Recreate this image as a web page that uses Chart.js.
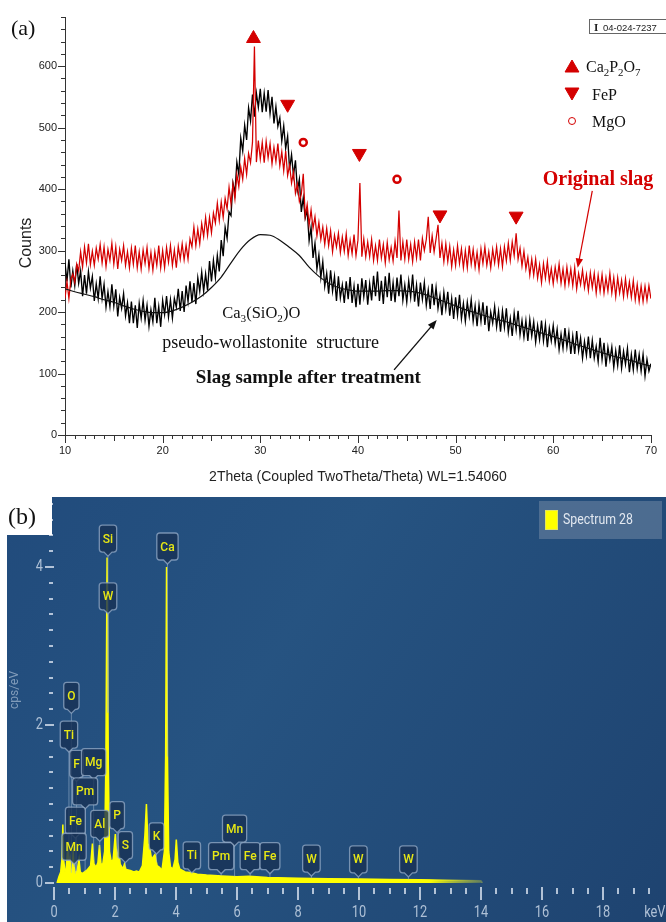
<!DOCTYPE html>
<html>
<head>
<meta charset="utf-8">
<script src="https://cdn.jsdelivr.net/npm/chart.js@4.4.1/dist/chart.umd.min.js"></script>
<style>
  html, body { margin: 0; padding: 0; background: #fff; }
  #wrap { position: relative; width: 666px; height: 922px; overflow: hidden; }
  #xrd { position: absolute; left: 0; top: 0; }
  #eds { position: absolute; left: 0; top: 497px; }
</style>
</head>
<body>
<div id="wrap">
  <canvas id="xrd" width="666" height="490"></canvas>
  <canvas id="eds" width="666" height="425"></canvas>
</div>
<script>
const RED = '#d40000';

// ---------- (a) XRD, 2theta 10..70 deg, 0.2 deg steps ----------
const thetaStart = 10, thetaStep = 0.2;
const treatedSlag = [
  280,250,286,240,267, 243,278,247,267,226, 260,230,266,239,258, 218,246,222,258,222,
  245,208,233,209,245, 210,237,193,224,206, 230,194,215,182,217, 182,211,174,214,190,
  219,187,211,177,204, 184,223,182,209,176, 219,196,226,192,220, 190,222,208,238,202,
  234,200,243,217,250, 216,247,213,256,234, 265,234,262,235,283, 250,284,256,292,266,
  317,291,338,320,363, 357,410,393,444,424, 483,462,504,480,532, 511,554,518,556,533,
  563,525,556,526,561, 523,550,507,534,502, 516,478,503,466,486, 432,456,422,447,398,
  416,363,386,353,366, 316,338,288,312,270, 293,256,282,242,263, 230,268,234,258,218,
  258,223,244,215,250, 221,257,215,242,208, 246,212,255,225,252, 212,246,219,259,226,
  266,218,251,213,258, 224,264,218,248,216, 256,226,261,219,244, 216,251,224,261,217,
  244,209,248,221,248, 211,236,205,246,211, 240,206,227,195,232, 205,233,194,222,189,
  224,195,228,189,214, 185,216,193,220,185, 210,177,212,185,216, 179,210,169,200,182,
  209,176,201,168,202, 175,206,167,190,161, 198,171,202,163,186, 159,186,153,188,161,
  184,151,178,155,186, 153,180,143,174,153, 178,149,172,139,164, 141,174,143,167,132,
  161,132,169,137,158, 125,152,129,160,125, 154,125,144,119,158, 123,150,111,143,122,
  143,110,137,113,146, 109,136,115,141,102, 131,106,139,108,131, 104,131,96,123,104,
  116
];
const originalSlag = [
  222,250,222,253,262, 248,278,267,298,273, 306,280,311,277,299, 276,304,286,310,280,
  306,274,302,284,312, 278,306,270,302,284, 308,276,298,272,304, 278,308,272,298,270,
  301,279,305,271,297, 268,298,276,308,272, 300,272,305,281,308, 276,301,272,307,286,
  311,285,309,286,319, 306,338,308,335,311, 344,323,354,325,354, 329,361,345,377,349,
  379,354,385,368,403, 376,408,384,424,404, 436,416,450,424,458, 443,476,632,444,479,
  449,476,443,478,451, 474,441,468,445,474, 438,461,430,462,422, 439,410,428,393,408,
  380,392,425,356,375, 341,366,336,355,324, 346,318,338,310,336, 308,332,298,325,306,
  328,297,322,299,327, 292,317,295,326,292, 317,410,290,319,290, 314,290,318,284,308,
  284,318,288,310,280, 313,285,305,283,315, 288,365,284,314,286, 318,286,310,282,314,
  288,318,284,320,300, 318,355,296,324,298, 319,342,288,312,282, 311,282,307,274,301,
  276,308,279,303,272, 300,272,308,278,302, 273,297,269,303,279, 306,276,298,272,302,
  280,306,277,303,274, 306,283,312,284,314, 292,328,286,304,275, 299,270,289,260,286,
  260,286,255,277,248, 279,255,282,250,271, 246,273,252,278,247, 270,243,273,246,270,
  243,272,238,263,245, 268,240,261,235,264, 240,263,231,260,234, 261,231,256,234,263,
  231,256,225,256,231, 252,225,254,227,249, 224,251,220,245,217, 242,217,242,219,243,
  222
];
const twoTheta = treatedSlag.map((_, i) => +(thetaStart + i * thetaStep).toFixed(1));

// smooth amorphous hump (one value per degree, 10..70)
const fitCounts = [
  238,233,229,225,220,216,210,205,201,199,
  199,202,208,216,226,240,257,280,302,318,
  326,325,317,305,292,273,258,247,240,236,
  234,234,234,235,235,234,232,228,222,216,
  210,204,199,194,189,185,180,175,170,165,
  160,155,149,144,139,134,129,125,121,116,
  112
];
const fitTheta = fitCounts.map((_, i) => 10 + i);

// phase markers
const ca2p2o7X = [29.3], ca2p2o7Y = [645];
const fepX = [32.8, 40.15, 48.4, 56.2], fepY = [538, 458, 358, 356];
const mgoX = [34.4, 44.0], mgoY = [476, 416];

const xrdXTicks = [10, 20, 30, 40, 50, 60, 70];
const xrdYTicks = [0, 100, 200, 300, 400, 500, 600];

// ---------- (b) EDS spectrum ----------
const energyKeV = [
  0.10,0.16,0.22,0.26,0.29,0.32,0.36,0.40,0.44,0.47,0.50,0.53,0.56,0.60,0.63,0.66,0.70,0.76,0.82,0.86,
  0.92,1.00,1.10,1.20,1.26,1.31,1.38,1.44,1.49,1.54,1.60,1.66,1.70,1.74,1.78,1.82,1.88,1.94,2.01,2.06,
  2.12,2.17,2.26,2.31,2.36,2.50,2.62,2.70,2.80,2.90,2.98,3.03,3.08,3.14,3.20,3.31,3.38,3.46,3.54,3.62,
  3.66,3.69,3.72,3.76,3.82,3.90,3.97,4.01,4.06,4.12,4.30,4.51,4.70,5.00,5.50,6.00,6.40,7.00,8.00,9.00,
  10.0,11.0,12.0,13.0,14.0,14.05
];
const cpsPerEV = [
  0.00,0.08,0.14,0.30,0.74,0.28,0.14,0.18,0.40,0.46,0.22,0.30,0.12,0.16,0.42,0.20,0.12,0.16,0.30,0.14,
  0.12,0.14,0.17,0.22,0.50,0.24,0.20,0.26,0.48,0.24,0.24,0.40,1.50,4.12,1.50,0.40,0.26,0.30,0.62,0.30,
  0.44,0.24,0.18,0.24,0.17,0.16,0.14,0.15,0.14,0.22,0.60,1.00,0.50,0.44,0.30,0.36,0.22,0.20,0.16,0.40,
  1.60,4.00,1.60,0.40,0.20,0.18,0.30,0.55,0.26,0.18,0.14,0.13,0.11,0.10,0.09,0.08,0.085,0.07,0.06,0.055,
  0.05,0.045,0.04,0.035,0.03,0.00
];
const edsXTicks = [0, 2, 4, 6, 8, 10, 12, 14, 16, 18];
const edsYTicks = [0, 2, 4];

// element tags: name, energy of pointer, top of tag box (cps/eV)
const tagNames  = ['Si','W','Ca','O','Ti','F','Mg','Pm','Fe','Mn','Al','P','S','K','Ti','Pm','Mn','Fe','Fe','W','W','W'];
const tagEnergy = [1.77,1.77,3.72,0.57,0.49,0.74,1.30,1.02,0.70,0.66,1.50,2.07,2.34,3.36,4.52,5.48,5.92,6.43,7.08,8.44,9.98,11.62];
const tagTop    = [4.53,3.80,4.43,2.54,2.05,1.68,1.70,1.33,0.96,0.63,0.92,1.03,0.65,0.76,0.52,0.51,0.86,0.51,0.51,0.48,0.47,0.47];

const pts = (xs, ys) => xs.map((v, i) => ({ x: v, y: ys[i] }));

const SERIF = '"Liberation Serif", "Times New Roman", serif';
const SANS = '"Liberation Sans", Arial, sans-serif';

// text with "_x" subscripts
function rich(ctx, str, x, y, size, align, weight = '') {
  const segs = [];
  for (let i = 0; i < str.length; i++) {
    if (str[i] === '_') { segs.push([str[i + 1], true]); i++; }
    else if (segs.length && !segs[segs.length - 1][1]) segs[segs.length - 1][0] += str[i];
    else segs.push([str[i], false]);
  }
  const fnt = sub => `${weight} ${sub ? size * 0.68 : size}px ${SERIF}`;
  let w = 0;
  segs.forEach(([t, sub]) => { ctx.font = fnt(sub); w += ctx.measureText(t).width; });
  let cx = align === 'center' ? x - w / 2 : x;
  ctx.textAlign = 'left';
  ctx.textBaseline = 'alphabetic';
  segs.forEach(([t, sub]) => {
    ctx.font = fnt(sub);
    ctx.fillText(t, cx, y + (sub ? size * 0.22 : 0));
    cx += ctx.measureText(t).width;
  });
}

function arrow(ctx, x1, y1, x2, y2, color, lw, head) {
  const ang = Math.atan2(y2 - y1, x2 - x1);
  ctx.strokeStyle = color; ctx.fillStyle = color; ctx.lineWidth = lw;
  ctx.beginPath();
  ctx.moveTo(x1, y1);
  ctx.lineTo(x2 - Math.cos(ang) * head * 0.8, y2 - Math.sin(ang) * head * 0.8);
  ctx.stroke();
  ctx.beginPath();
  ctx.moveTo(x2, y2);
  ctx.lineTo(x2 - head * Math.cos(ang - 0.38), y2 - head * Math.sin(ang - 0.38));
  ctx.lineTo(x2 - head * Math.cos(ang + 0.38), y2 - head * Math.sin(ang + 0.38));
  ctx.closePath();
  ctx.fill();
}

const xrdDecor = {
  id: 'xrdDecor',
  afterDraw(chart) {
    const { ctx, chartArea: a, scales: { x, y } } = chart;
    const P = (vx, vy) => [x.getPixelForValue(vx), y.getPixelForValue(vy)];
    ctx.save();

    // tick marks
    ctx.strokeStyle = '#333';
    ctx.lineWidth = 1;
    ctx.beginPath();
    for (let v = 10; v <= 70; v++) {
      const px = Math.round(x.getPixelForValue(v)) + 0.5;
      const len = v % 10 === 0 ? 8 : (v % 5 === 0 ? 6 : 4);
      ctx.moveTo(px, a.bottom); ctx.lineTo(px, a.bottom + len);
    }
    for (let v = 0; v <= 680; v += 20) {
      const py = Math.round(y.getPixelForValue(v)) + 0.5;
      const len = v % 100 === 0 ? 7 : 4;
      ctx.moveTo(a.left - len, py); ctx.lineTo(a.left, py);
    }
    ctx.stroke();

    // y title
    ctx.save();
    ctx.translate(27, 243);
    ctx.rotate(-Math.PI / 2);
    ctx.fillStyle = '#222';
    ctx.font = `16px ${SANS}`;
    ctx.textAlign = 'center';
    ctx.textBaseline = 'middle';
    ctx.fillText('Counts', 0, 0);
    ctx.restore();

    // panel letter
    ctx.fillStyle = '#111';
    ctx.font = `22px ${SERIF}`;
    ctx.textAlign = 'left';
    ctx.textBaseline = 'alphabetic';
    ctx.fillText('(a)', 11, 35);

    // PDF card box
    ctx.strokeStyle = '#666';
    ctx.lineWidth = 1;
    ctx.strokeRect(589.5, 19.5, 80, 14);
    ctx.fillStyle = '#222';
    ctx.font = `bold 11px ${SERIF}`;
    ctx.fillText('I', 594, 31);
    ctx.font = `9.5px ${SANS}`;
    ctx.fillText('04-024-7237', 603, 30.5);

    // legend
    const draw = Chart.helpers.drawPoint;
    ctx.fillStyle = RED; ctx.strokeStyle = RED;
    draw(ctx, { pointStyle: 'triangle', radius: 8, rotation: 0, borderWidth: 1 }, 572, 68);
    draw(ctx, { pointStyle: 'triangle', radius: 8, rotation: 180, borderWidth: 1 }, 572, 92);
    ctx.fillStyle = '#fff';
    draw(ctx, { pointStyle: 'circle', radius: 3.5, rotation: 0, borderWidth: 2.5 }, 572, 121);
    ctx.fillStyle = '#111';
    rich(ctx, 'Ca_2P_2O_7', 586, 72, 16, 'left');
    rich(ctx, 'FeP', 592, 100, 16, 'left');
    rich(ctx, 'MgO', 592, 127, 16, 'left');

    // annotations
    let p = P(30.1, 190);
    rich(ctx, 'Ca_3(SiO_2)O', p[0], p[1], 16.5, 'center');
    p = P(19.95, 141);
    rich(ctx, 'pseudo-wollastonite  structure', p[0], p[1], 18, 'left');
    p = P(23.4, 84);
    rich(ctx, 'Slag sample after treatment', p[0], p[1], 19, 'left', 'bold');
    ctx.fillStyle = RED;
    p = P(58.93, 407);
    rich(ctx, 'Original slag', p[0], p[1], 20, 'left', 'bold');

    let t = P(43.7, 106), h = P(48.07, 187);
    arrow(ctx, t[0], t[1], h[0], h[1], '#111', 1.4, 10);
    t = P(64.0, 397); h = P(62.5, 272);
    arrow(ctx, t[0], t[1], h[0], h[1], RED, 1.2, 10);

    ctx.restore();
  }
};

new Chart(document.getElementById('xrd'), {
  type: 'line',
  data: {
    datasets: [
      { label: 'Original slag', data: pts(twoTheta, originalSlag), borderColor: RED, borderWidth: 1.25, pointRadius: 0, order: 2 },
      { label: 'Slag sample after treatment', data: pts(twoTheta, treatedSlag), borderColor: '#000', borderWidth: 1.35, pointRadius: 0, order: 3 },
      { label: 'Ca3(SiO2)O hump', data: pts(fitTheta, fitCounts), borderColor: '#111', borderWidth: 1.2, pointRadius: 0, tension: 0.4, cubicInterpolationMode: 'monotone', order: 1 },
      { type: 'scatter', label: 'Ca2P2O7', data: pts(ca2p2o7X, ca2p2o7Y), pointStyle: 'triangle', pointRadius: 8, backgroundColor: RED, borderColor: RED, borderWidth: 1, order: 0 },
      { type: 'scatter', label: 'FeP', data: pts(fepX, fepY), pointStyle: 'triangle', rotation: 180, pointRadius: 8, backgroundColor: RED, borderColor: RED, borderWidth: 1, order: 0 },
      { type: 'scatter', label: 'MgO', data: pts(mgoX, mgoY), pointStyle: 'circle', pointRadius: 3.5, backgroundColor: '#fff', borderColor: RED, borderWidth: 2.5, order: 0 }
    ]
  },
  options: {
    responsive: false,
    animation: false,
    devicePixelRatio: 1,
    layout: { padding: { left: 0, right: 10, top: 17, bottom: 0 } },
    plugins: { legend: { display: false }, tooltip: { enabled: false } },
    scales: {
      x: {
        type: 'linear', min: 10, max: 70,
        afterBuildTicks: s => { s.ticks = xrdXTicks.map(v => ({ value: v })); },
        afterFit: s => { s.height = 55; },
        ticks: { padding: 9, maxRotation: 0, color: '#222', font: { family: SANS, size: 11 } },
        grid: { display: false, drawTicks: false },
        border: { display: true, color: '#333', width: 1 },
        title: { display: true, text: '2Theta (Coupled TwoTheta/Theta) WL=1.54060', color: '#222', font: { family: SANS, size: 14 }, padding: { top: 0, bottom: 4 } }
      },
      y: {
        min: 0, max: 680,
        afterBuildTicks: s => { s.ticks = xrdYTicks.map(v => ({ value: v })); },
        afterFit: s => { s.width = 65; },
        ticks: { padding: 8, color: '#222', font: { family: SANS, size: 11 } },
        grid: { display: false, drawTicks: false },
        border: { display: true, color: '#333', width: 1 }
      }
    }
  },
  plugins: [xrdDecor]
});

// ---------- EDS panel ----------
function edsFade(chart, alpha) {
  const { ctx, chartArea, scales } = chart;
  if (!chartArea) return `rgba(255,255,0,${alpha})`;
  const x0 = scales.x.getPixelForValue(12.3), x1 = scales.x.getPixelForValue(14.1);
  const g = ctx.createLinearGradient(x0, 0, x1, 0);
  g.addColorStop(0, `rgba(255,255,0,${alpha})`);
  g.addColorStop(1, 'rgba(200,210,60,0.25)');
  return g;
}

function condensed(ctx, text, x, y, sx) {
  ctx.save();
  ctx.translate(x, y);
  ctx.scale(sx, 1);
  ctx.fillText(text, 0, 0);
  ctx.restore();
}

function specAt(e) {
  for (let i = 1; i < energyKeV.length; i++) {
    if (energyKeV[i] >= e) {
      const f = (e - energyKeV[i - 1]) / (energyKeV[i] - energyKeV[i - 1]);
      return cpsPerEV[i - 1] + f * (cpsPerEV[i] - cpsPerEV[i - 1]);
    }
  }
  return 0;
}

const edsDecor = {
  id: 'edsDecor',
  beforeDraw(chart) {
    const { ctx, width, height } = chart;
    ctx.save();
    ctx.fillStyle = '#fff';
    ctx.fillRect(0, 0, width, height);
    const g = ctx.createLinearGradient(0, 0, width, height);
    g.addColorStop(0, '#214b7c');
    g.addColorStop(0.4, '#265381');
    g.addColorStop(1, '#1e4370');
    ctx.fillStyle = g;
    ctx.fillRect(7, 0, width - 7, height);
    ctx.restore();
  },
  afterDraw(chart) {
    const { ctx, chartArea: a, scales: { x, y } } = chart;
    ctx.save();

    // y ticks every 0.2
    ctx.fillStyle = 'rgba(205,216,232,0.85)';
    for (let k = 0; k <= 24; k++) {
      const py = Math.round(y.getPixelForValue(k * 0.2));
      if (k % 10 === 0) ctx.fillRect(45, py - 1, 9, 2);
      else ctx.fillRect(49, py - 1, 4, 2);
    }
    // x ticks every 0.5 keV
    for (let k = 0; k <= 39; k++) {
      const px = Math.round(x.getPixelForValue(k * 0.5));
      if (k % 4 === 0) ctx.fillRect(px - 1, a.bottom + 4, 2, 13);
      else ctx.fillRect(px - 1, a.bottom + 5, 2, 6);
    }
    ctx.fillStyle = 'rgba(190,205,224,0.9)';
    ctx.font = `16px Roboto, ${SANS}`;
    ctx.textBaseline = 'middle';
    ctx.textAlign = 'center';
    edsXTicks.forEach(v => condensed(ctx, String(v), x.getPixelForValue(v), a.bottom + 30, 0.8));
    condensed(ctx, 'keV', x.getPixelForValue(19.7), a.bottom + 30, 0.8);
    ctx.textAlign = 'right';
    edsYTicks.forEach(v => condensed(ctx, String(v), 43, y.getPixelForValue(v), 0.8));

    // y title
    ctx.save();
    ctx.translate(15, 193);
    ctx.rotate(-Math.PI / 2);
    ctx.textAlign = 'center';
    ctx.fillStyle = 'rgba(160,182,206,0.75)';
    ctx.font = `12px Roboto, ${SANS}`;
    ctx.fillText('cps/eV', 0, 0);
    ctx.restore();

    // element tags
    ctx.font = `500 12px Roboto, ${SANS}`;
    ctx.textAlign = 'center';
    ctx.textBaseline = 'middle';
    tagNames.forEach((name, i) => {
      const cx = x.getPixelForValue(tagEnergy[i]);
      const top = y.getPixelForValue(tagTop[i]);
      const w = Math.max(11, ctx.measureText(name).width + 7), h = 27, r = 3;
      const l = cx - w / 2, rt = cx + w / 2, b = top + h;
      const tip = b + 4;
      const sy = y.getPixelForValue(specAt(tagEnergy[i]));
      if (sy > tip + 1) {
        ctx.strokeStyle = 'rgba(160,182,206,0.55)';
        ctx.lineWidth = 1;
        ctx.beginPath(); ctx.moveTo(cx, tip); ctx.lineTo(cx, sy); ctx.stroke();
      }
      ctx.beginPath();
      ctx.moveTo(l + r, top);
      ctx.lineTo(rt - r, top); ctx.quadraticCurveTo(rt, top, rt, top + r);
      ctx.lineTo(rt, b - r); ctx.quadraticCurveTo(rt, b, rt - r, b);
      ctx.lineTo(cx + 4, b); ctx.lineTo(cx, tip); ctx.lineTo(cx - 4, b);
      ctx.lineTo(l + r, b); ctx.quadraticCurveTo(l, b, l, b - r);
      ctx.lineTo(l, top + r); ctx.quadraticCurveTo(l, top, l + r, top);
      ctx.closePath();
      ctx.fillStyle = 'rgba(24,50,86,0.82)';
      ctx.fill();
      ctx.strokeStyle = 'rgba(150,172,200,0.75)';
      ctx.lineWidth = 1.3;
      ctx.stroke();
      ctx.fillStyle = '#e8e814';
      ctx.fillText(name, cx, top + h / 2 + 1);
    });

    // legend
    ctx.fillStyle = 'rgba(105,130,160,0.6)';
    ctx.fillRect(539, 4, 123, 38);
    ctx.fillStyle = '#ffff00';
    ctx.fillRect(545, 13, 13, 20);
    ctx.strokeStyle = 'rgba(220,220,120,0.8)';
    ctx.lineWidth = 1;
    ctx.strokeRect(545.5, 13.5, 12, 19);
    ctx.fillStyle = '#e2e8f0';
    ctx.font = `14px Roboto, ${SANS}`;
    ctx.textAlign = 'left';
    condensed(ctx, 'Spectrum 28', 563, 23, 0.88);

    // panel letter on white patch
    ctx.fillStyle = '#fff';
    ctx.fillRect(0, 0, 52, 38);
    ctx.fillStyle = '#111';
    ctx.font = `24px ${SERIF}`;
    ctx.textBaseline = 'alphabetic';
    ctx.fillText('(b)', 8, 27);

    ctx.restore();
  }
};

new Chart(document.getElementById('eds'), {
  type: 'line',
  data: {
    datasets: [{
      label: 'Spectrum 28',
      data: pts(energyKeV, cpsPerEV),
      borderColor: c => edsFade(c.chart, 1),
      backgroundColor: c => edsFade(c.chart, 1),
      fill: 'origin',
      borderWidth: 1.5,
      pointRadius: 0,
      tension: 0
    }]
  },
  options: {
    responsive: false,
    animation: false,
    devicePixelRatio: 1,
    layout: { padding: { left: 54, right: 2, top: 0, bottom: 39 } },
    plugins: { legend: { display: false }, tooltip: { enabled: false } },
    scales: {
      x: { type: 'linear', min: 0, max: 20, display: false },
      y: { min: 0, max: 4.886, display: false }
    }
  },
  plugins: [edsDecor]
});
</script>
</body>
</html>
